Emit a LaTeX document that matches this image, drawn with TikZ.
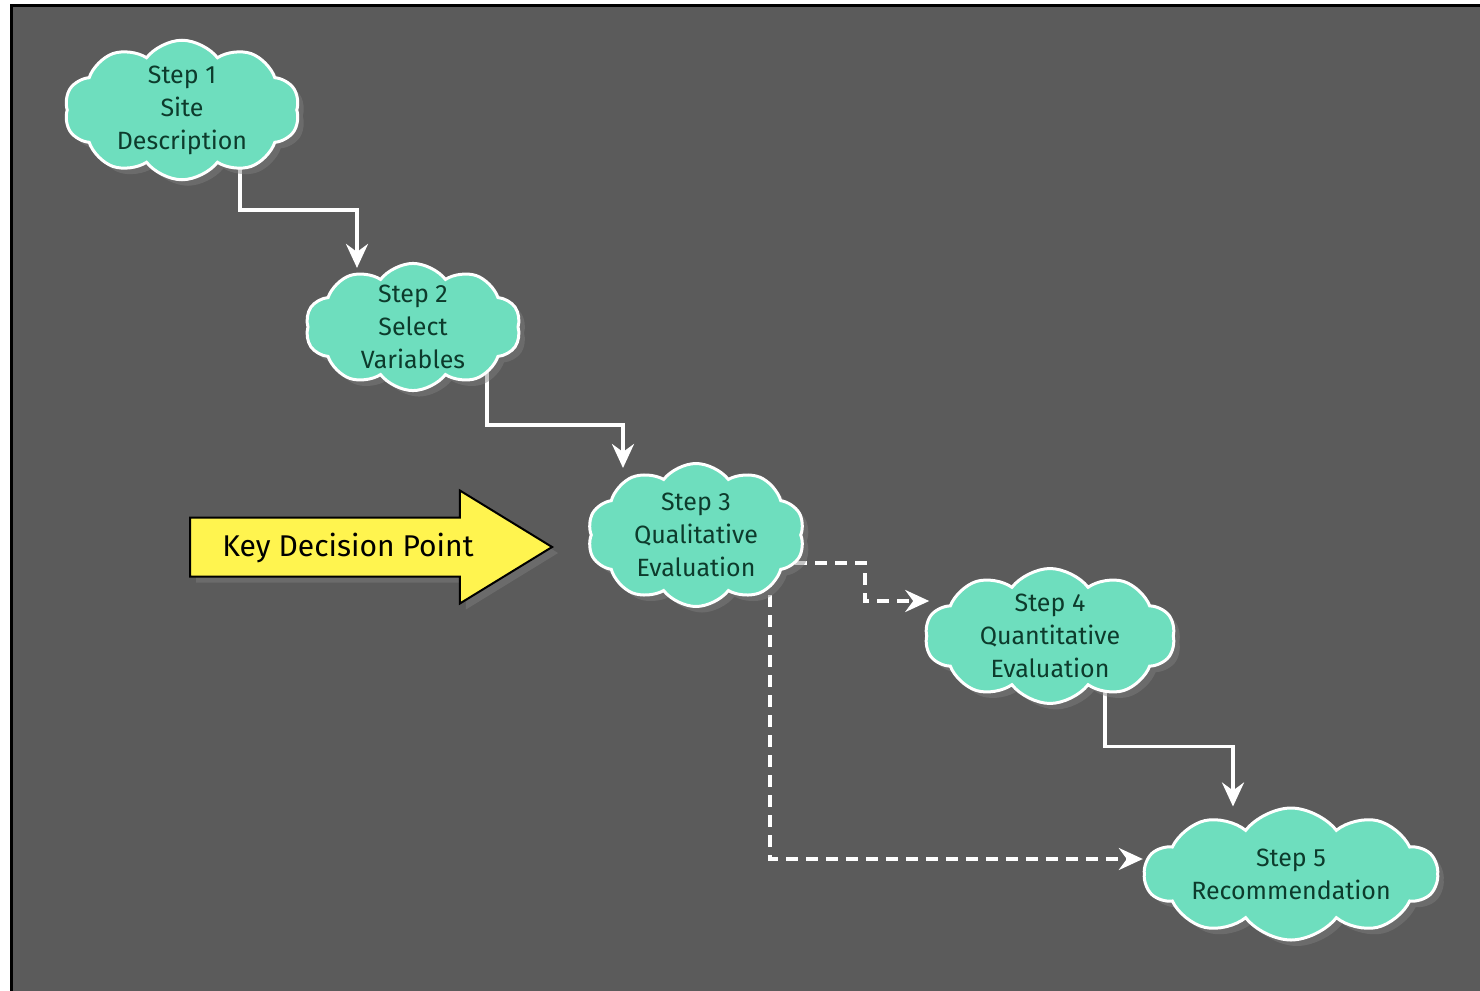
\documentclass[tikz,border=0pt]{standalone}
\usepackage{fontspec}
\setmainfont{Fira Sans}
\usetikzlibrary{shapes.symbols,shapes.arrows,shadows,arrows.meta,backgrounds,calc}
\definecolor{bggray}{HTML}{5B5B5B}
\definecolor{cloudfill}{HTML}{6EDEBE}
\definecolor{cloudtext}{HTML}{0D3B2C}
\definecolor{keyyellow}{HTML}{FFF44F}
\tikzset{
  stepcloud/.style={cloud, cloud puffs=10, cloud puff arc=105, cloud ignores aspect,
    draw=white, line width=1.5pt, fill=cloudfill, text=cloudtext, inner xsep=0pt, inner ysep=-1.5pt,
    align=center, font=\fontsize{12.5}{16.5}\selectfont,
    drop shadow={opacity=0.45, shadow xshift=3pt, shadow yshift=-3pt}},
  flow/.style={draw=white, line width=1.8pt, -{Stealth[length=12pt,width=11pt,inset=4pt]}},
  maybe/.style={flow, dash pattern=on 6pt off 4pt},
}
\begin{document}
\begin{tikzpicture}[x=0.5pt,y=-0.5pt]
\useasboundingbox (0,0) rectangle (1480,991);
% frame
\begin{scope}[on background layer]
  \fill[bggray] (11.5,5.5) rectangle (1480,991);
  \draw[black,line width=1.5pt] (11.5,991) -- (11.5,5.5) -- (1480,5.5);
\end{scope}
% steps
\node[stepcloud, minimum width=117.5pt, minimum height=68pt] (s1) at (182,110) {Step 1\\Site\\Description};
\node[stepcloud, minimum width=107.5pt, minimum height=62.5pt] (s2) at (413,327) {Step 2\\Select\\Variables};
\node[stepcloud, minimum width=108.5pt, minimum height=71.5pt] (s3) at (696,535) {Step 3\\Qualitative\\Evaluation};
\node[stepcloud, minimum width=125pt, minimum height=60pt] (s4) at (1050,636) {Step 4\\Quantitative\\Evaluation};
\node[stepcloud, inner ysep=0pt, minimum width=146.5pt, minimum height=66pt] (s5) at (1291,874) {Step 5\\Recommendation};
% key decision arrow
\node[single arrow, draw=black, line width=1pt, fill=keyyellow, minimum height=181pt,
  inner xsep=0pt, inner ysep=14.25pt, single arrow head extend=13.5pt, single arrow tip angle=63,
  drop shadow={opacity=0.45, shadow xshift=3pt, shadow yshift=-3pt}] (kdp) at (347,547) {};
\node[font=\fontsize{15}{18}\selectfont] (kdptext) at (348,548) {Key Decision Point};
% connectors
\begin{scope}[on background layer]
  \draw[flow] ([xshift=29pt]s1.center) |- ([xshift=-28pt,yshift=26pt]s2.north) -- ([xshift=-28pt,yshift=-3pt]s2.north);
  \draw[flow] ([xshift=37pt]s2.center) |- ([xshift=-36.5pt,yshift=18.5pt]s3.north) -- ([xshift=-36.5pt,yshift=-3pt]s3.north);
  \draw[maybe] ([xshift=49.5pt,yshift=-14pt]s3.center) -- ++(35pt,0) |- ([xshift=2pt,yshift=17.5pt]s4.west);
  \draw[maybe] ([xshift=37pt]s3.center) |- ([yshift=7.5pt]s5.west);
  \draw[flow] ([xshift=27.5pt]s4.center) |- ([xshift=-29pt,yshift=30pt]s5.north) -- ([xshift=-29pt]s5.north);
\end{scope}
\end{tikzpicture}
\end{document}
